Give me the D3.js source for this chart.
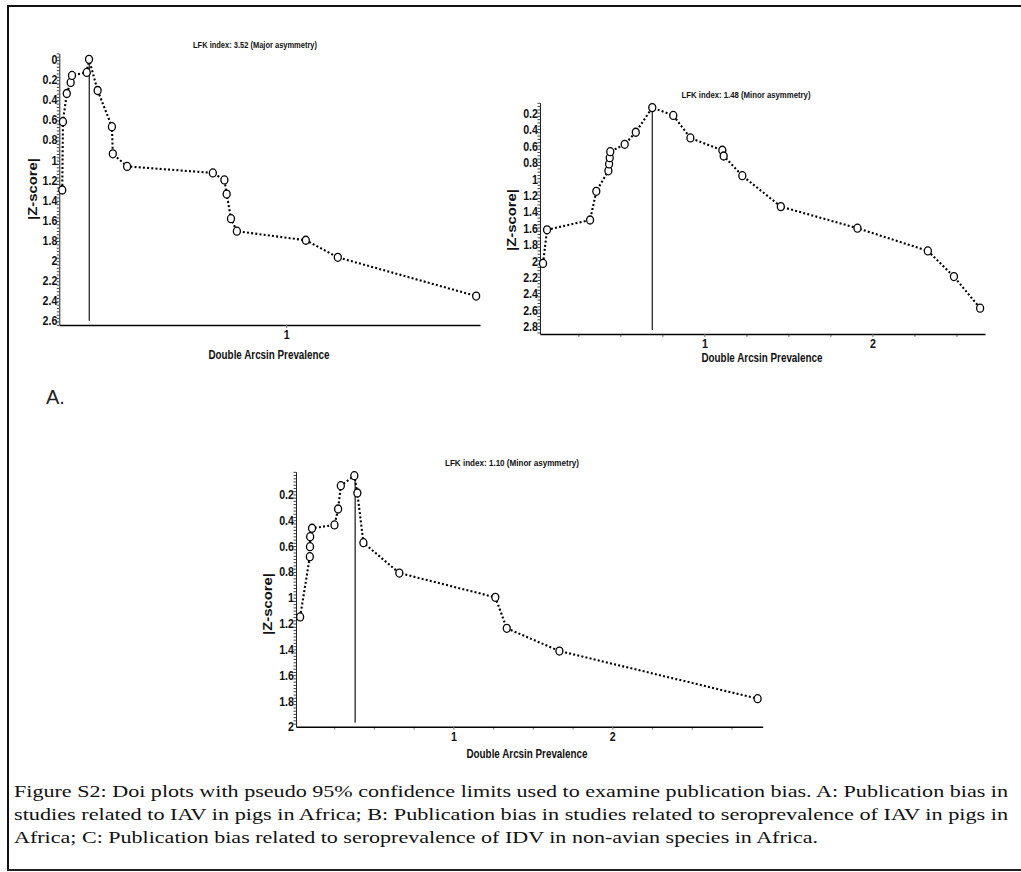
<!DOCTYPE html>
<html><head><meta charset="utf-8">
<script src="https://cdn.jsdelivr.net/npm/d3@7"></script>
<style>body{margin:0;background:#fff}</style>
</head><body>
<svg id="c" width="1021" height="872"></svg>
<script>
// ---------- data ----------
const titleA = "LFK index: 3.52 (Major asymmetry)";
const titleB = "LFK index: 1.48 (Minor asymmetry)";
const titleC = "LFK index: 1.10 (Minor asymmetry)";
const xLabel = "Double Arcsin Prevalence";
const yLabel = "|Z-score|";

const aX = [0.013,0.016,0.033,0.050,0.056,0.121,0.131,0.169,0.232,0.236,0.299,0.677,0.728,0.738,0.757,0.783,1.087,1.228,1.838];
const aZ = [1.30,0.62,0.34,0.23,0.16,0.13,0.00,0.31,0.67,0.94,1.065,1.13,1.20,1.34,1.585,1.71,1.80,1.97,2.355];
const aMid = 0.132;
const aYTicks = [0,0.2,0.4,0.6,0.8,1,1.2,1.4,1.6,1.8,2,2.2,2.4,2.6];
const aXTicks = [1];

const bX = [0.040,0.064,0.320,0.357,0.429,0.433,0.437,0.440,0.526,0.592,0.690,0.815,0.917,1.107,1.115,1.226,1.455,1.911,2.330,2.485,2.641];
const bZ = [2.03,1.62,1.50,1.15,0.90,0.817,0.74,0.667,0.577,0.43,0.13,0.225,0.50,0.65,0.72,0.96,1.337,1.60,1.877,2.19,2.575];
const bMid = 0.690;
const bYTicks = [0.2,0.4,0.6,0.8,1,1.2,1.4,1.6,1.8,2,2.2,2.4,2.6,2.8];
const bXTicks = [1,2];
const bXMinor = [0.25,0.5,0.75,1.25,1.5,1.75,2.25,2.5];

const cX = [0.036,0.097,0.098,0.099,0.111,0.252,0.275,0.292,0.377,0.396,0.434,0.660,1.264,1.336,1.667,2.914];
const cZ = [1.15,0.683,0.606,0.528,0.463,0.437,0.314,0.133,0.056,0.19,0.575,0.81,0.998,1.238,1.414,1.783];
const cMid = 0.382;
const cYTicks = [0.2,0.4,0.6,0.8,1,1.2,1.4,1.6,1.8,2];
const cXTicks = [1,2];
const cXMinor = [0.25,0.5,0.75,1.25,1.5,1.75,2.25,2.5,2.75];

const captionLines = [
  "Figure S2: Doi plots with pseudo 95% confidence limits used to examine publication bias. A: Publication bias in",
  "studies related to IAV in pigs in Africa; B: Publication bias in studies related to seroprevalence of IAV in pigs in",
  "Africa; C: Publication bias related to seroprevalence of IDV in non-avian species in Africa."
];

// ---------- layout ----------
const FONT = "'Liberation Sans',Arial,sans-serif";
const SX = 0.82; // horizontal condensing for narrow bold labels
const panels = [
  {title:titleA, xs:aX, zs:aZ, mid:aMid, midZ:[-0.03,2.6], xDom:[0,1.855], xRange:[59.3,480], yDom:[-0.06,2.643], yRange:[53.3,325],
   yTicks:aYTicks, yMinorStep:0.2/6, xTicks:aXTicks, xMinor:[], titlePos:[255,48], titleW:124, yLabPos:[37,189], xLabPos:[269,359]},
  {title:titleB, xs:bX, zs:bZ, mid:bMid, midZ:[0.12,2.84], xDom:[0.022,2.67], xRange:[540,985], yDom:[0.07,2.89], yRange:[102.7,334],
   yTicks:bYTicks, yMinorStep:0.04, xTicks:bXTicks, xMinor:bXMinor, titlePos:[746,98], titleW:129, yLabPos:[516,220], xLabPos:[762,362]},
  {title:titleC, xs:cX, zs:cZ, mid:cMid, midZ:[0.035,1.97], xDom:[0.01,2.946], xRange:[296,762.7], yDom:[0.025,2.0], yRange:[471.7,726.7],
   yTicks:cYTicks, yMinorStep:0.025, xTicks:cXTicks, xMinor:cXMinor, titlePos:[512,466], titleW:134, yLabPos:[272,604], xLabPos:[527,758]}
];

const svg = d3.select("#c");
svg.append("rect").attr("width",1021).attr("height",872).attr("fill","#fff");

// outer frame
svg.append("line").attr("x1",7).attr("x2",1021).attr("y1",6).attr("y2",6).attr("stroke","#111").attr("stroke-width",2);
svg.append("line").attr("x1",8).attr("x2",8).attr("y1",5).attr("y2",871).attr("stroke","#111").attr("stroke-width",2);
svg.append("line").attr("x1",7).attr("x2",1021).attr("y1",870).attr("y2",870).attr("stroke","#222").attr("stroke-width",2);

const fmt = d => String(+d.toFixed(1));
function condense(sel){
  sel.each(function(){
    const xx = +(this.getAttribute("x") || 0);
    this.setAttribute("x", xx / SX);
    this.setAttribute("transform", `scale(${SX},1)`);
  });
}

panels.forEach(p => {
  const x = d3.scaleLinear().domain(p.xDom).range(p.xRange);
  const y = d3.scaleLinear().domain(p.yDom).range(p.yRange);
  const g = svg.append("g");
  const x0 = p.xRange[0], yB = p.yRange[1];

  // y minor ticks
  const minor = d3.range(p.yDom[0] + 0.001, p.yDom[1], p.yMinorStep);
  g.append("g").attr("transform",`translate(${x0},0)`)
    .call(d3.axisLeft(y).tickValues(minor).tickSize(2.5).tickFormat(""))
    .call(s => s.select(".domain").remove())
    .call(s => s.selectAll("line").attr("stroke","#444").attr("stroke-width",1));
  // y axis with labels
  g.append("g").attr("transform",`translate(${x0},0)`)
    .call(d3.axisLeft(y).tickValues(p.yTicks).tickFormat(fmt).tickSize(0).tickSizeOuter(0).tickPadding(2))
    .call(s => s.select(".domain").attr("stroke","#222").attr("stroke-width",1))
    .call(s => s.selectAll("text").attr("font-family",FONT).attr("font-weight","bold").attr("font-size",13).attr("fill","#111").call(condense));

  // x minor ticks
  g.append("g").attr("transform",`translate(0,${yB})`)
    .call(d3.axisBottom(x).tickValues(p.xMinor).tickSize(3).tickFormat(""))
    .call(s => s.select(".domain").remove())
    .call(s => s.selectAll("line").attr("stroke","#777"));
  // x axis
  g.append("g").attr("transform",`translate(0,${yB})`)
    .call(d3.axisBottom(x).tickValues(p.xTicks).tickFormat(d3.format("d")).tickSize(3).tickSizeOuter(0).tickPadding(2))
    .call(s => s.select(".domain").attr("stroke","#000").attr("stroke-width",1.6))
    .call(s => s.selectAll("line").attr("stroke","#777"))
    .call(s => s.selectAll("text").attr("font-family",FONT).attr("font-weight","bold").attr("font-size",13).attr("fill","#111").call(condense));

  // mid vertical line
  g.append("line").attr("x1",x(p.mid)).attr("x2",x(p.mid)).attr("y1",y(p.midZ[0])).attr("y2",y(p.midZ[1]))
    .attr("stroke","#000").attr("stroke-width",1.1);

  // dotted Doi line
  const pts = p.xs.map((v,i)=>[v,p.zs[i]]);
  g.append("path").datum(pts)
    .attr("d", d3.line().x(d=>x(d[0])).y(d=>y(d[1])))
    .attr("fill","none").attr("stroke","#000").attr("stroke-width",2.1)
    .attr("stroke-dasharray","2 2.2");

  // circles
  g.selectAll("ellipse.pt").data(pts).enter().append("ellipse").attr("class","pt")
    .attr("cx",d=>x(d[0])).attr("cy",d=>y(d[1])).attr("rx",3.5).attr("ry",4)
    .attr("fill","#fff").attr("stroke","#000").attr("stroke-width",1.3);

  // texts
  g.append("text").attr("x",p.titlePos[0]).attr("y",p.titlePos[1]).attr("text-anchor","middle")
    .attr("font-family",FONT).attr("font-weight","bold").attr("font-size",9).attr("fill","#111")
    .attr("textLength",p.titleW).attr("lengthAdjust","spacingAndGlyphs").text(p.title);
  g.append("text").attr("transform",`translate(${p.xLabPos[0]},${p.xLabPos[1]})`).attr("text-anchor","middle")
    .attr("font-family",FONT).attr("font-weight","bold").attr("font-size",12).attr("fill","#111")
    .attr("textLength",121).attr("lengthAdjust","spacingAndGlyphs").text(xLabel);
  g.append("text").attr("transform",`translate(${p.yLabPos[0]},${p.yLabPos[1]}) rotate(-90)`).attr("text-anchor","middle")
    .attr("font-family",FONT).attr("font-weight","bold").attr("font-size",12).attr("fill","#111")
    .attr("textLength",62).attr("lengthAdjust","spacingAndGlyphs").text(yLabel);
});

// panel letter
svg.append("text").attr("x",46).attr("y",404).attr("font-family","'Liberation Sans',Arial,sans-serif")
  .attr("font-size",20).attr("fill","#222").text("A.");

// caption
const capW = [994, 994, 804];
captionLines.forEach((t,i)=>{
  svg.append("text").attr("x",14).attr("y",797 + i*23)
    .attr("font-family","'Liberation Serif','Times New Roman',serif").attr("font-size",17.5).attr("fill","#111")
    .attr("textLength",capW[i]).attr("lengthAdjust","spacingAndGlyphs").text(t);
});
</script>
</body></html>
